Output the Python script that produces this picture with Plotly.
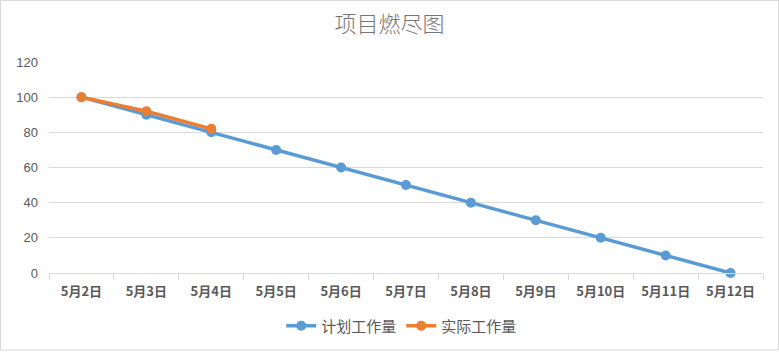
import plotly.graph_objects as go

categories = ["5月2日", "5月3日", "5月4日", "5月5日", "5月6日", "5月7日",
              "5月8日", "5月9日", "5月10日", "5月11日", "5月12日"]
planned = [100, 90, 80, 70, 60, 50, 40, 30, 20, 10, 0]
actual = [100, 92, 82]
y_ticks = [0, 20, 40, 60, 80, 100, 120]

FONT = "Noto Sans CJK SC"

fig = go.Figure()
fig.add_trace(go.Scatter(
    x=categories, y=planned, name="计划工作量", mode="lines+markers",
    line=dict(color="#5B9BD5", width=3.5),
    marker=dict(color="#5B9BD5", size=10),
    cliponaxis=False,
))
fig.add_trace(go.Scatter(
    x=categories[:len(actual)], y=actual, name="实际工作量", mode="lines+markers",
    line=dict(color="#ED7D31", width=3.5),
    marker=dict(color="#ED7D31", size=10),
    cliponaxis=False,
))

fig.update_layout(
    width=779, height=352,
    margin=dict(l=49, r=16, t=62, b=79, autoexpand=False),
    paper_bgcolor="white", plot_bgcolor="white",
    font=dict(family=FONT, color="#595959"),
    title=dict(text="项目燃尽图", x=0.5, xanchor="center", y=0.93, yanchor="middle",
               font=dict(size=22, color="#767676", family=FONT, weight=300)),
    showlegend=True,
    legend=dict(orientation="h", x=0.494, xanchor="center", yref="container",
                y=1 - 326 / 352, yanchor="middle", bgcolor="rgba(0,0,0,0)",
                font=dict(size=15, color="#595959", family=FONT), itemwidth=30),
    xaxis=dict(
        type="category", categoryorder="array", categoryarray=categories,
        showgrid=False, showline=True, linecolor="#D9D9D9", linewidth=1,
        ticks="outside", ticklen=6, tickcolor="#D9D9D9", tickson="boundaries",
        tickfont=dict(size=13, color="#595959", family=FONT, weight="bold"),
        ticklabelstandoff=6,
        range=[-0.5, len(categories) - 0.5],
    ),
    yaxis=dict(
        range=[0, 120], tickvals=y_ticks, showgrid=True, gridcolor="#D9D9D9",
        gridwidth=1, zeroline=False, showline=False,
        tickfont=dict(size=13, color="#595959", family="Liberation Sans"),
        ticklen=0, ticks="", ticklabelstandoff=10,
    ),
)
fig.add_shape(type="rect", xref="paper", yref="paper", x0=-48.5/714, x1=1+15.5/714,
              y0=-77/211, y1=1+61.5/211, line=dict(color="#D9D9D9", width=1),
              layer="below")

fig.write_html("out.html")
